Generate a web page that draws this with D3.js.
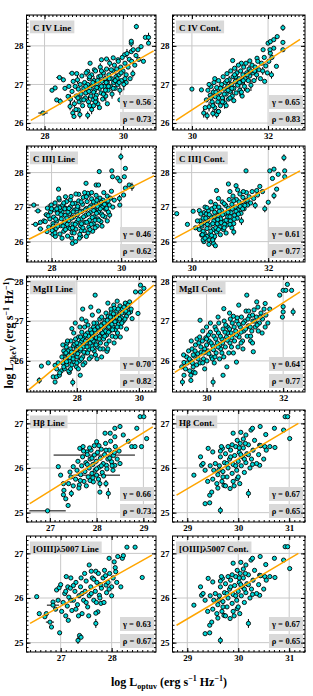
<!DOCTYPE html>
<html>
<head>
<meta charset="utf-8">
<script src="https://cdn.jsdelivr.net/npm/d3@7"></script>
<style>
  body { margin: 0; background: #fff; }
  svg text { font-family: "Liberation Serif", "Times New Roman", serif; font-weight: bold; }
</style>
</head>
<body>
<svg id="chart" width="313" height="696"></svg>
<script>
const titles = ['C IV Line', 'C IV Cont.', 'C III] Line', 'C III] Cont.', 'MgII Line', 'MgII Cont.',
  'H\u03b2 Line', 'H\u03b2 Cont.', '[OIII]\u03bb5007 Line', '[OIII]\u03bb5007 Cont.'];
const gammas = ['0.56', '0.65', '0.46', '0.61', '0.70', '0.64', '0.66', '0.67', '0.63', '0.67'];
const rhos = ['0.73', '0.83', '0.62', '0.77', '0.82', '0.77', '0.73', '0.65', '0.67', '0.65'];

const xDomains = [[27.54, 30.84], [29.49, 32.97], [27.28, 31.0], [29.5, 32.96], [26.38, 30.55],
  [29.11, 32.57], [26.5, 29.27], [28.71, 31.31], [26.33, 28.87], [28.71, 31.31]];
const yDomains = [[25.82, 28.8], [25.82, 28.8], [25.41, 28.77], [25.41, 28.77], [25.22, 28.13],
  [25.22, 28.13], [24.79, 27.3], [24.79, 27.3], [24.79, 27.39], [24.79, 27.39]];
const xTicks = [[28, 30], [30, 32], [28, 30], [30, 32], [28, 30], [30, 32], [27, 28, 29], [29, 30, 31], [27, 28], [29, 30, 31]];
const yTicks = [[26, 27, 28], [26, 27, 28], [26, 27, 28], [26, 27, 28], [26, 27, 28], [26, 27, 28],
  [25, 26, 27], [25, 26, 27], [25, 26, 27], [25, 26, 27]];

// fitted relations, as [x1, y1, x2, y2]
const fits = [[27.65, 26.07, 30.78, 27.87], [29.58, 26.07, 32.84, 28.17], [27.35, 26.07, 30.95, 27.91],
  [29.56, 26.1, 32.83, 28.05], [26.46, 25.28, 30.48, 27.9], [29.17, 25.71, 32.44, 27.73],
  [26.57, 25.2, 29.2, 26.92], [28.79, 25.39, 31.18, 27.0], [26.4, 25.43, 28.79, 26.96], [28.79, 25.39, 31.18, 27.0]];

// points: [x, y, xerr, yerr]
const civLine = [
  [27.96,26.26,0.12,0.05],[28.19,26.85],[28.27,26.91],[28.38,27.18,0.08,0],[28.48,27.12],[28.31,26.6],[28.4,26.56,0.06,0.08],
  [28.52,26.9],[28.6,26.69],[28.65,26.43,0,0.1],[28.72,26.26,0,0.1],[28.75,26.17],[28.9,26.22,0,0.1],[28.86,26.34],
  [28.7,27.29,0.08,0],[28.82,27.28],[29.1,27.34],[29.16,27.55],[29.27,27.38],[29.45,27.64],[29.58,27.66],[29.75,27.69],
  [29.87,27.64],[30.04,27.77],[30.21,27.85],[30.21,28.07,0,0.1],[30.21,28.12],[30.34,28.5,0,0.07],[30.38,27.9],[30.46,27.98],
  [30.57,28.22],[30.65,28.22,0,0.12],[30.65,28.07],[30.52,27.6],[30.25,27.28,0,0.1],[30.08,27.05],[29.92,26.6],
  [28.62,26.95],[28.66,26.62,0,0.12],[28.7,26.82],[28.73,27.08],[28.76,26.5,0,0.1],[28.78,26.95],[28.81,26.7],[28.84,27.12,0,0.1],
  [28.86,26.88],[28.88,26.55],[28.91,27.0],[28.93,26.75,0,0.12],[28.95,27.22],[28.97,26.45],[29.0,26.9],[29.02,27.05],
  [29.04,26.65],[29.06,27.3,0,0.1],[29.08,26.8],[29.1,27.0],[29.12,26.55,0,0.15],[29.14,27.15],[29.16,26.9],[29.18,26.7],
  [29.2,27.25],[29.22,26.98],[29.24,26.6],[29.26,27.1,0,0.12],[29.28,26.85],[29.3,27.35],[29.32,26.72],[29.34,27.02],
  [29.36,26.5,0,0.15],[29.38,27.2],[29.4,26.9],[29.42,27.45,0,0.1],[29.44,26.78],[29.46,27.08],[29.48,26.62],[29.5,27.3],
  [29.52,26.95],[29.54,27.15,0,0.12],[29.56,26.7,0,0.14],[29.58,27.4],[29.6,27.05],[29.62,26.85],[29.64,27.25],
  [29.66,27.55,0,0.1],[29.68,26.95],[29.7,27.15],[29.72,26.75,0,0.12],[29.74,27.35],[29.76,27.05],[29.78,27.5],[29.8,26.9],
  [29.82,27.2,0,0.1],[29.84,27.4],[29.86,27.0],[29.88,27.6],[29.9,27.25],[29.92,26.85,0,0.12],[29.94,27.45],[29.96,27.1],
  [29.98,27.7],[30.0,27.35],[30.02,27.0,0,0.15],[30.05,27.55],[30.08,27.25],[30.1,27.8,0,0.12],[30.13,27.45],[30.16,27.65],
  [30.18,27.15],[30.22,27.6],[30.26,27.9],[30.3,27.5],[30.33,27.75],[30.4,27.65],[29.05,26.95],[29.15,26.45],[29.25,26.8],
  [29.35,27.1],[29.45,26.95],[29.55,26.85],[29.65,27.15],[29.75,26.9],[29.85,27.15],[29.2,26.35,0,0.12],[29.4,26.4],
  [29.6,26.5],[29.1,26.2,0,0.1],[28.8,26.35],[29.3,26.55],
  [28.95,26.6],[29.05,26.78],[29.13,26.82],[29.23,27.05],[29.3,26.65],[29.33,26.92],[29.43,27.22],[29.5,26.75],[29.57,27.05],
  [29.63,26.95],[29.7,27.38],[29.8,27.1],[29.9,27.05],[29.95,27.3],[30.05,27.15],[29.15,27.2],[29.45,27.35],[28.85,26.65],
  [29.0,26.6],[29.25,26.45]
];

const civCont = [
  [30.0,26.88],[30.25,26.86],[30.31,26.26,0,0.12],[30.4,26.19,0,0.1],[30.65,26.22,0,0.1],[30.69,26.3],[31.07,27.62],
  [31.3,27.55],[31.52,27.61],[31.71,27.68],[31.91,27.08],[32.0,28.07],[32.06,28.11],[32.15,28.16],[32.24,28.24],
  [32.15,27.94],[32.09,27.25,0,0.1],[32.22,27.47],[32.39,28.47,0,0.08],[32.39,28.09],[32.39,27.9],[32.06,27.81],[31.87,27.9],
  [30.38,26.6],[30.42,26.85],[30.45,26.42,0,0.12],[30.48,26.72],[30.5,26.95],[30.53,26.55],[30.56,26.8,0,0.1],[30.58,27.05],
  [30.6,26.4,0,0.14],[30.62,26.68],[30.65,26.92],[30.68,26.55],[30.7,27.1],[30.72,26.78,0,0.12],[30.75,26.45],[30.78,27.0],
  [30.8,26.65],[30.82,27.2],[30.84,26.88],[30.86,26.52,0,0.15],[30.88,27.05],[30.9,26.75],[30.92,27.28],[30.94,26.95],
  [30.96,26.62],[30.98,27.12,0,0.1],[31.0,26.82],[31.02,27.35],[31.04,27.0],[31.06,26.7,0,0.14],[31.08,27.2],[31.1,26.9],
  [31.12,27.42],[31.14,27.08],[31.16,26.78],[31.18,27.3,0,0.12],[31.2,26.98],[31.22,27.5],[31.24,27.15],[31.26,26.85,0,0.15],
  [31.28,27.35],[31.3,27.05],[31.32,26.7],[31.34,27.25],[31.36,27.45],[31.38,26.95,0,0.12],[31.4,27.15],[31.42,27.55],
  [31.44,27.3],[31.46,26.85],[31.48,27.1],[31.5,27.4,0,0.1],[31.52,27.22],[31.55,26.98,0,0.15],[31.58,27.5],[31.6,27.3],
  [31.63,27.1],[31.66,27.45],[31.7,27.25,0,0.12],[31.73,27.6],[31.76,27.38],[31.8,27.15],[31.83,27.55],[31.86,27.35,0,0.1],
  [31.9,27.7],[31.94,27.48],[31.98,27.3],[32.02,27.6],[32.05,27.9],[32.1,27.7],[30.7,26.3],[30.9,26.45],[31.1,26.58],
  [30.55,26.25,0,0.1],[31.3,26.8,0,0.12],[30.35,26.4],[30.45,27.0],[30.6,27.15],
  [30.5,26.65],[30.63,26.8],[30.7,26.65],[30.85,26.75],[30.95,26.85],[31.05,26.9],[31.15,27.2],[31.25,27.05],[31.35,27.1],
  [31.45,27.25],[31.55,27.35],[31.65,27.35],[30.75,26.9],[30.92,27.1],[31.12,27.25],[30.55,26.45],[30.8,26.55],[31.0,26.65]
];

const ciiiLine = [
  [27.49,27.06,0.15,0],[27.61,26.89,0.1,0],[27.54,26.5,0.12,0],[27.68,26.56],[27.78,26.6],[27.68,26.37,0.08,0],[27.87,26.29],
  [28.04,26.21,0.1,0],[28.11,26.15],[28.2,27.52],[28.22,27.21],[28.54,27.21],[28.78,27.37],[28.99,27.69],[29.07,27.37],
  [29.28,27.64],[29.37,28.03],[29.35,27.64],[29.73,28.05],[29.75,27.88],[29.99,28.46,0,0.1],[29.9,27.84],[29.96,27.76],
  [30.12,28.12],[30.09,27.88],[29.95,27.25,0,0.1],[29.96,27.06],[30.07,27.35],[30.12,27.55],[30.23,27.64],[30.31,27.59,0,0.12],
  [29.67,26.77,0,0.1],[28.58,26.1],[28.6,25.95],[28.69,26.0],[28.84,26.15],
  [27.82,26.58],[27.85,26.78,0.08,0],[27.88,26.97],[27.92,26.42],[27.95,26.66],[27.97,26.86],[27.99,27.06,0.1,0],[28.02,26.32],
  [28.04,26.52],[28.06,26.71],[28.08,26.92],[28.1,27.12],[28.13,26.38],[28.15,26.6],[28.17,26.82],[28.19,27.01],[28.21,27.26],
  [28.24,26.22],[28.26,26.46],[28.28,26.66],[28.3,26.86],[28.32,27.06,0.1,0],[28.35,26.3],[28.37,26.56],[28.39,26.76],
  [28.41,26.96],[28.43,27.16],[28.46,26.16],[28.48,26.41],[28.5,26.61],[28.52,26.81],[28.54,27.01],[28.56,27.31],[28.59,26.26],
  [28.61,26.51],[28.63,26.71],[28.65,26.91],[28.67,27.11],[28.7,26.36],[28.72,26.56],[28.74,26.78],[28.76,26.98],[28.78,27.18],
  [28.81,26.21],[28.83,26.46],[28.85,26.66],[28.87,26.88],[28.89,27.08],[28.91,27.28],[28.94,26.32],[28.96,26.56],[28.98,26.76],
  [29.0,26.96],[29.02,27.16],[29.04,27.4],[29.07,26.42],[29.09,26.62],[29.11,26.84],[29.13,27.04],[29.15,27.24],[29.18,26.3],
  [29.2,26.52],[29.22,26.72],[29.24,26.92],[29.26,27.12],[29.28,27.34],[29.31,26.45],[29.33,26.66],[29.35,26.86],[29.37,27.06],
  [29.39,27.26],[29.42,26.58],[29.44,26.8],[29.46,27.0],[29.48,27.2],[29.5,27.42],[29.53,26.72],[29.55,26.94],[29.57,27.14],
  [29.6,27.32],[29.63,26.86],[29.66,27.06],[29.69,27.26],[29.72,27.46],[29.76,27.0],[29.8,27.2],[28.0,26.95],[28.25,26.92],
  [28.45,26.5],[28.65,26.25],[28.85,26.32],[29.05,26.25],[29.25,26.4],[29.45,26.45],[29.15,27.42],[28.95,27.42],[28.7,27.38],
  [28.4,27.3],[28.8,26.1],[29.0,26.15],[29.6,26.6],[28.3,26.1],
  [27.9,26.75],[28.05,26.45],[28.12,26.65],[28.18,26.45],[28.27,26.78],[28.33,26.45],[28.38,26.95],[28.44,26.68],[28.47,26.86],
  [28.53,26.38],[28.57,26.68],[28.62,26.86],[28.68,26.5],[28.73,26.95],[28.77,26.64],[28.82,26.86],[28.86,26.52],[28.92,26.72],
  [28.97,26.92],[29.01,26.56],[29.06,26.8],[29.1,27.0],[29.14,26.5],[29.17,26.7],[29.21,26.9],[29.25,26.62],[29.29,26.82],
  [29.32,27.02],[29.36,26.62],[29.4,26.95],[29.43,27.14],[29.47,26.75],[29.52,27.08],[29.58,26.96],[29.62,27.18],[28.23,26.98],
  [28.5,26.96],[28.75,27.02],[29.0,27.3],[29.2,27.15],[28.1,26.25],[28.4,26.35],[28.6,26.4],[28.9,26.4],[29.1,26.35],
  [28.15,26.95],[28.35,27.12],[28.6,27.1],[28.85,27.15],[29.3,27.2]
];

const ciiiCont = [
  [29.61,26.81],[29.89,26.5],[30.04,26.88],[30.2,26.9],[30.32,26.84],[30.65,27.48],[30.96,27.67],[31.42,28.05],[31.16,27.62],
  [31.7,27.48],[31.91,26.95,0,0.1],[32.04,28.05],[32.15,28.1],[32.26,27.95],[32.41,28.43,0,0.1],[32.43,28.05],[32.43,27.88],
  [32.15,27.33,0,0.1],[32.22,27.52],[32.11,27.83],[32.0,27.14],[30.26,26.19],[30.32,26.0],[30.57,25.95,0,0.1],[30.57,26.1],
  [30.2,26.35],[30.22,26.6],[30.24,26.8],[30.27,26.45],[30.3,26.68],[30.33,26.25],[30.35,26.55],[30.38,26.8],[30.4,26.38],
  [30.42,26.62],[30.44,26.9],[30.47,26.2],[30.49,26.48],[30.51,26.72],[30.53,26.95],[30.56,26.35],[30.58,26.6],[30.6,26.85],
  [30.62,27.08],[30.65,26.28],[30.67,26.52],[30.69,26.76],[30.71,27.0],[30.74,26.42],[30.76,26.66],[30.78,26.9],[30.8,27.15],
  [30.83,26.35],[30.85,26.58],[30.87,26.82],[30.89,27.05],[30.92,26.48],[30.94,26.72],[30.96,26.96],[30.98,27.22],[31.01,26.6],
  [31.03,26.84],[31.05,27.08],[31.08,27.32],[31.1,26.52],[31.12,26.76],[31.14,27.0],[31.17,27.22],[31.19,26.68],[31.21,26.92],
  [31.24,27.15],[31.26,27.38],[31.29,26.82],[31.31,27.05],[31.34,27.28],[31.37,26.95],[31.4,27.18],[31.43,27.42],[31.46,27.06],
  [31.5,27.3],[31.54,27.12],[31.58,27.45],[31.62,27.25],[31.66,27.05,0,0.1],[31.72,27.35],[31.78,27.6],[31.85,27.45],
  [30.3,26.05],[30.45,26.05],[30.6,26.15],[30.75,26.2],[30.9,26.25],[31.05,26.4],[30.15,26.6],[30.1,26.4],[30.35,27.0],
  [30.5,27.15],[30.7,27.25],[31.0,27.45],[31.2,27.5],[30.45,25.92],[30.62,25.88],[31.1,26.28,0,0.1],[31.3,26.6,0,0.12],
  [30.25,26.5],[30.3,26.3],[30.37,26.68],[30.41,26.5],[30.46,26.78],[30.5,26.3],[30.55,26.52],[30.59,26.72],[30.63,26.4],
  [30.68,26.64],[30.72,26.88],[30.77,26.55],[30.81,26.78],[30.86,26.5],[30.9,26.62],[30.95,26.85],[31.0,26.72],[31.06,26.95],
  [31.11,26.65],[31.16,26.88],[31.22,26.8],[31.27,27.02],[31.33,26.95],[31.39,27.05],[31.45,27.2],[30.28,26.2],[30.4,26.15],
  [30.52,26.18],[30.7,26.35],[30.85,26.4],[31.0,26.5],[30.4,26.98],[30.6,27.0],[30.85,27.1],[31.1,27.18],[31.35,27.45],
  [30.35,26.1],[30.55,26.05]
];

const mgLine = [
  [26.79,25.51,0,0.08],[26.86,25.87],[27.08,25.95],[27.3,25.89],[27.24,25.6],[27.3,25.47],[27.35,25.6],[27.44,25.64],
  [27.87,25.46,0,0.1],[27.76,25.71],[28.11,25.64],[28.19,27.3],[28.59,27.65],[28.16,27.05],[27.84,26.81],[27.68,26.44],
  [28.97,26.24],[29.19,27.4],[29.57,27.44],[29.73,27.23],[29.89,27.73],[30.05,27.9],[30.16,27.82],[30.05,27.73],[29.97,27.19],
  [29.78,27.06],
  [27.5,25.75],[27.52,26.1],[27.55,25.95],[27.58,26.25],[27.6,25.8],[27.63,26.05],[27.66,26.35],[27.68,25.9],[27.71,26.15],
  [27.74,25.75],[27.76,26.0],[27.79,26.3],[27.81,26.5],[27.84,25.9],[27.86,26.12],[27.89,26.38],[27.91,25.98],[27.94,26.22],
  [27.96,26.55],[27.99,25.85],[28.01,26.1],[28.04,26.35],[28.06,26.6],[28.09,26.0],[28.11,26.25],[28.14,26.48],[28.16,26.72],
  [28.19,26.1],[28.21,26.35],[28.24,26.6],[28.26,25.95],[28.29,26.2],[28.31,26.45],[28.34,26.7],[28.36,26.9],[28.39,26.28],
  [28.41,26.52],[28.44,26.78],[28.46,26.1],[28.49,26.38],[28.51,26.62],[28.54,26.85],[28.56,26.25],[28.59,26.48],[28.61,26.72],
  [28.64,26.95],[28.66,26.35],[28.69,26.58],[28.71,26.82],[28.74,27.05],[28.76,26.45],[28.79,26.68],[28.81,26.92],[28.84,26.3],
  [28.86,26.55],[28.89,26.78],[28.91,27.02],[28.94,27.2],[28.96,26.65],[28.99,26.88],[29.01,27.12],[29.04,26.5],[29.06,26.75],
  [29.09,26.98],[29.11,27.22],[29.14,26.62],[29.16,26.86],[29.19,27.1],[29.21,27.32],[29.24,26.78],[29.26,27.0],[29.29,27.25],
  [29.31,26.7],[29.34,26.92],[29.36,27.15],[29.39,27.38],[29.42,26.85],[29.44,27.08],[29.47,27.3],[29.5,27.0],[29.53,27.22],
  [29.56,27.45],[29.6,27.12],[29.63,27.35],[29.67,27.2],[29.7,27.48],[29.75,27.3],[27.45,25.7],[27.4,25.95],[27.35,25.8],
  [27.55,26.4],[27.7,26.5],[27.9,26.7],[28.1,26.85],[28.3,27.0],[28.5,27.15],[28.7,27.25],[28.2,25.9],[28.4,26.05],[28.6,26.15],
  [28.8,26.1],[29.0,26.3],[29.2,26.45],[29.4,26.6],[29.6,26.8],[28.05,25.8],[27.95,26.95],[28.45,27.35],[29.0,27.45],
  [29.3,27.5],[28.25,26.85],[28.75,26.3],
  [27.62,26.18],[27.67,25.98],[27.72,26.25],[27.78,26.08],[27.83,26.22],[27.88,26.05],[27.93,26.42],[27.98,26.28],[28.03,26.18],
  [28.08,26.42],[28.13,26.3],[28.18,26.55],[28.23,26.22],[28.28,26.5],[28.33,26.35],[28.38,26.62],[28.43,26.45],[28.48,26.7],
  [28.53,26.5],[28.58,26.78],[28.63,26.58],[28.68,26.85],[28.73,26.62],[28.78,26.88],[28.83,26.7],[28.88,26.95],[28.93,26.75],
  [28.98,27.02],[29.03,26.85],[29.08,27.1],[29.13,26.92],[29.18,27.18],[29.23,26.98],[29.28,27.1],[29.33,27.3],[29.38,27.05],
  [29.45,27.2],[29.52,27.35],[29.58,27.25],[29.65,27.4],[28.0,26.45],[28.12,26.6],[28.35,26.2],[28.47,26.55],[28.62,26.4],
  [28.72,26.55],[28.9,26.62],[29.02,26.72],[29.15,26.78],[29.3,26.85],[29.45,26.95],[29.55,27.05],[28.28,26.65],[28.55,26.95],
  [28.8,27.1],[29.1,27.3],[27.8,25.8],[28.0,25.95],[28.15,26.05],[28.5,26.3],[28.65,26.05],[28.95,26.42],[29.25,26.6],
  [27.58,25.85],[27.65,26.2]
];

const mgCont = [
  [29.37,25.47,0,0.1],[29.41,25.64],[29.59,25.51],[29.59,25.64],[29.66,25.72],[29.41,25.96],[30.17,25.47,0,0.12],[30.43,25.64],
  [30.53,25.85],[30.78,25.97],[31.22,26.23],[29.83,27.02],[30.0,26.85],[30.45,27.31],[30.84,27.4],[31.05,27.65],[31.31,27.48],
  [31.53,27.44],[31.91,27.65],[32.0,27.77],[32.11,27.92],[32.07,27.77],[32.22,27.77],[32.0,27.36],[32.0,27.23],[31.98,27.1],
  [32.26,27.23,0,0.1],[31.53,26.85],
  [29.45,25.8],[29.48,26.1],[29.5,25.95],[29.53,26.25],[29.56,25.75],[29.59,26.0],[29.62,26.3],[29.65,25.85],[29.68,26.12],
  [29.71,26.4],[29.74,25.9],[29.77,26.18],[29.8,26.45],[29.83,25.95],[29.86,26.22],[29.89,26.5],[29.92,26.05],[29.95,26.3],
  [29.98,26.58],[30.01,26.0],[30.04,26.25],[30.07,26.5],[30.1,26.72],[30.13,26.1],[30.16,26.38],[30.19,26.62],[30.22,26.85],
  [30.25,26.2],[30.28,26.45],[30.31,26.7],[30.34,26.05],[30.37,26.3],[30.4,26.55],[30.43,26.8],[30.46,27.0],[30.49,26.35],
  [30.52,26.6],[30.55,26.85],[30.58,26.2],[30.61,26.45],[30.64,26.7],[30.67,26.95],[30.7,27.12],[30.73,26.5],[30.76,26.75],
  [30.79,27.0],[30.82,26.35],[30.85,26.6],[30.88,26.85],[30.91,27.1],[30.94,26.5],[30.97,26.75],[31.0,27.0],[31.03,27.25],
  [31.06,26.62],[31.09,26.88],[31.12,27.12],[31.15,26.5],[31.18,26.75],[31.21,27.0],[31.24,27.28],[31.27,26.85],[31.3,27.1],
  [31.34,27.35],[31.38,26.95],[31.42,27.2],[31.46,27.05],[31.5,27.3],[31.55,27.15],[31.6,26.95],[31.65,27.3],[29.4,26.15],
  [29.35,25.85],[29.6,26.5],[29.9,26.75],[30.1,26.95],[30.3,27.1],[30.6,27.2],[29.7,25.7],[29.95,25.8],[30.2,25.95],
  [30.45,26.1],[30.7,26.2],[30.95,26.3],[31.2,26.45],[31.45,26.7],[30.0,26.55],[30.35,26.4],[30.55,26.7],
  [29.55,26.05],[29.63,25.95],[29.7,26.25],[29.78,26.05],[29.85,26.35],[29.93,26.2],[30.0,26.4],[30.06,26.18],[30.12,26.45],
  [30.18,26.28],[30.24,26.55],[30.3,26.35],[30.36,26.62],[30.42,26.45],[30.48,26.72],[30.54,26.52],[30.6,26.8],[30.66,26.58],
  [30.72,26.85],[30.78,26.65],[30.84,26.92],[30.9,26.72],[30.96,26.95],[31.02,26.8],[31.08,27.05],[31.14,26.85],[31.2,27.15],
  [31.26,27.0],[31.32,26.9],[31.4,27.1],[29.75,26.55],[30.05,26.65],[30.25,26.78],[30.5,26.9],[30.8,27.08],[31.1,27.25],
  [29.65,26.15],[29.9,25.95],[30.15,26.05],[30.4,26.2],[30.65,26.35],[30.9,26.45],[31.15,26.62],[30.32,26.95],[30.62,27.05],
  [30.22,26.1],[29.82,26.6],[31.35,26.75]
];

const hbLine = [
  [26.95,25.04,0.39,0],[27.18,26.03],[27.23,25.84],[27.29,25.65],[27.3,25.5],[27.29,25.4],[27.34,25.31],[27.39,25.16],
  [27.46,25.43,0,0.08],[27.43,25.91],[27.5,26.03],[27.64,26.44],[27.71,26.48],[27.79,26.36],[27.95,26.29,0.87,0],
  [28.0,25.84,0.5,0],[27.86,25.72],[27.93,25.69],[28.07,25.65,0,0.1],[28.2,25.65,0,0.08],[28.25,25.43,0,0.12],[28.0,26.59],
  [28.18,26.78],[28.29,26.78],[28.39,26.7],[28.39,26.89],[28.5,26.93],[28.57,26.74],[28.68,26.6],[28.75,26.48],[28.82,26.48],
  [28.86,26.89],[28.93,27.15],[29.01,27.15],[28.96,26.48],[29.07,26.66],[28.5,26.1],[28.39,26.06],[28.32,26.14],[28.21,26.06],
  [28.07,25.46],
  [27.55,25.75],[27.58,25.95],[27.6,26.15],[27.63,25.62],[27.66,25.85],[27.68,26.05],[27.7,26.25],[27.73,25.7],[27.75,25.92],
  [27.77,26.12],[27.8,26.3],[27.82,25.8],[27.84,26.0],[27.86,26.2],[27.88,26.4],[27.9,25.88],[27.92,26.08],[27.95,26.5],
  [27.97,25.95],[27.99,26.15],[28.02,26.35],[28.04,25.75],[28.06,26.02],[28.08,26.22],[28.1,26.42],[28.12,25.9],[28.14,26.1],
  [28.17,26.3],[28.19,26.55],[28.22,25.98],[28.24,26.2],[28.27,26.4],[28.3,26.6],[28.33,26.05],[28.36,26.28],[28.4,26.48],
  [28.44,26.2],[28.48,26.38],[27.5,25.6],[27.45,25.8],[27.4,25.65],[27.62,25.55],[27.78,25.6],[28.15,25.82],[28.35,25.95],
  [27.85,26.45],[28.05,26.5],
  [27.72,26.38],[27.8,26.08],[27.9,26.22],[28.0,25.98],[28.1,26.05],[28.2,26.4],[28.28,26.22],[27.65,25.72],[27.92,25.78],
  [28.38,26.35]
];

const hbCont = [
  [29.13,25.84],[29.26,26.25],[29.28,26.06],[29.31,26.1],[29.35,25.2],[29.44,25.22],[29.44,25.39],[29.48,25.46],[29.41,26.44],
  [29.5,26.36],[29.65,25.05,0,0.08],[29.69,26.44],[29.67,26.48],[29.8,26.48],[29.9,26.78],[30.05,26.8],[30.15,26.74],
  [30.25,26.85],[30.28,26.89],[30.43,26.93],[30.54,26.75],[30.71,26.89],[30.89,26.85],[30.92,27.15],[30.97,27.15],[31.01,26.66],
  [30.42,26.51],[30.52,26.48],[30.62,26.48],[30.72,26.46],[30.42,26.06],[30.2,25.43,0,0.1],[30.03,25.65],[29.98,25.76],
  [29.84,25.54],[29.72,25.61],
  [29.5,25.75],[29.52,25.95],[29.55,26.1],[29.58,25.65],[29.6,25.85],[29.63,26.05],[29.65,26.25],[29.68,25.7],[29.7,25.92],
  [29.73,26.12],[29.75,26.32],[29.78,25.8],[29.8,26.0],[29.83,26.2],[29.85,26.4],[29.88,25.88],[29.9,26.08],[29.93,26.28],
  [29.95,26.48],[29.97,25.95],[30.0,26.15],[30.02,26.35],[30.04,26.55],[30.06,26.05],[30.08,26.25],[30.1,26.45],[30.12,25.9],
  [30.15,26.12],[30.17,26.32],[30.2,26.52],[30.23,26.0],[30.26,26.2],[30.29,26.4],[30.32,26.62],[30.36,26.1],[30.4,26.3],
  [30.44,26.5],[29.45,26.05],[29.4,25.7],[29.35,25.95],[29.6,25.55],[29.75,25.6],[29.9,25.7],[30.0,25.8],[30.1,26.65],
  [29.98,26.62],[30.5,26.2],[30.55,26.4],[29.65,26.38],[29.92,25.6],
  [29.7,25.8],[29.78,26.1],[29.85,26.25],[29.95,26.05],[30.05,26.3],[30.12,26.2],[30.2,26.3],[30.28,26.08],[29.62,25.95],
  [30.02,26.45],[29.88,26.52],[30.14,26.55]
];

const oiiiLine = [
  [26.53,26.03],[26.58,25.65],[26.69,25.58],[26.72,25.65],[26.79,25.46,0.08,0],[26.82,25.35],[26.85,25.91],[26.92,26.18],
  [26.97,26.23],[26.98,25.22],[26.85,25.84,0.12,0],[27.11,26.48],[27.14,26.25],[27.34,25.05,0,0.08],[27.37,25.16],[27.4,25.12],
  [27.56,26.74],[27.69,26.6],[27.47,26.55],[27.69,25.43,0,0.1],[27.73,25.69],[27.69,25.66],[27.79,25.88],[27.95,26.89],
  [28.05,26.81],[28.12,26.93],[28.21,26.89],[28.23,26.95],[28.08,26.59],[28.18,26.25],[28.3,27.14],[28.46,27.14],[28.6,26.46],
  [27.89,26.29],[27.76,26.06],
  [27.02,25.7],[27.05,25.9],[27.08,26.1],[27.1,25.6],[27.13,25.82],[27.16,26.02],[27.19,26.22],[27.22,25.72],[27.25,25.95],
  [27.28,26.15],[27.3,26.35],[27.33,25.85],[27.36,26.05],[27.39,26.25],[27.42,25.65],[27.45,25.95],[27.48,26.15],[27.5,26.38],
  [27.53,25.8],[27.56,26.05],[27.59,26.25],[27.62,26.45],[27.65,25.95],[27.68,26.15],[27.71,26.35],[27.74,26.55],[27.77,26.0],
  [27.8,26.22],[27.83,26.45],[27.86,26.62],[27.9,26.12],[27.93,26.35],[27.96,26.55],[28.0,26.25],[28.03,26.45],[28.07,26.68],
  [28.1,26.35],[26.95,25.95],[26.9,25.75],[27.0,26.3],[27.2,26.45],[27.15,25.5],[27.35,25.6],[27.55,25.6],[27.6,26.6],
  [27.4,26.45],[27.85,25.9],[28.0,26.05],
  [27.2,25.95],[27.3,25.75],[27.42,26.1],[27.5,25.9],[27.6,26.1],[27.7,25.9],[27.78,26.3],[27.88,26.5],[27.95,26.2],
  [27.25,26.28],[27.65,26.42],[27.1,26.15]
];

const oiiiCont = hbCont;
const panelData = [civLine, civCont, ciiiLine, ciiiCont, mgLine, mgCont, hbLine, hbCont, oiiiLine, oiiiCont];

const cols = [[26.5, 156], [172.5, 305]];
const rows = [[15, 130], [146, 262], [276, 392], [410, 522], [536, 652]];

const svg = d3.select('#chart');

panelData.forEach((data, i) => {
  const [x0, x1] = cols[i % 2];
  const [y0, y1] = rows[Math.floor(i / 2)];
  const w = x1 - x0, h = y1 - y0;
  const x = d3.scaleLinear().domain(xDomains[i]).range([0, w]);
  const y = d3.scaleLinear().domain(yDomains[i]).range([h, 0]);

  const g = svg.append('g').attr('transform', `translate(${x0},${y0})`);
  g.append('clipPath').attr('id', 'clip' + i)
    .append('rect').attr('width', w).attr('height', h);

  // grid
  g.selectAll('.gx').data(xTicks[i]).enter().append('line')
    .attr('x1', d => x(d)).attr('x2', d => x(d)).attr('y1', 0).attr('y2', h)
    .attr('stroke', '#c8c8c8').attr('stroke-width', 1);
  g.selectAll('.gy').data(yTicks[i]).enter().append('line')
    .attr('y1', d => y(d)).attr('y2', d => y(d)).attr('x1', 0).attr('x2', w)
    .attr('stroke', '#c8c8c8').attr('stroke-width', 1);

  const plot = g.append('g').attr('clip-path', `url(#clip${i})`);

  // error bars
  plot.selectAll('.ex').data(data.filter(d => d[2])).enter().append('line')
    .attr('x1', d => x(d[0] - d[2])).attr('x2', d => x(d[0] + d[2]))
    .attr('y1', d => y(d[1])).attr('y2', d => y(d[1]))
    .attr('stroke', '#000').attr('stroke-width', 1);
  plot.selectAll('.ey').data(data.filter(d => d[3])).enter().append('line')
    .attr('x1', d => x(d[0])).attr('x2', d => x(d[0]))
    .attr('y1', d => y(d[1] - d[3])).attr('y2', d => y(d[1] + d[3]))
    .attr('stroke', '#000').attr('stroke-width', 1);

  plot.selectAll('circle').data(data).enter().append('circle')
    .attr('cx', d => x(d[0])).attr('cy', d => y(d[1])).attr('r', 2.1)
    .attr('fill', '#00d8d8').attr('stroke', '#000').attr('stroke-width', 0.9);

  const f = fits[i];
  plot.append('line')
    .attr('x1', x(f[0])).attr('y1', y(f[1])).attr('x2', x(f[2])).attr('y2', y(f[3]))
    .attr('stroke', '#ffa500').attr('stroke-width', 1.5);

  // title box
  const tt = g.append('text').attr('x', 6.5).attr('y', 15.5)
    .attr('font-size', 9).text(titles[i]);
  const tw = tt.node().getComputedTextLength();
  g.insert('rect', 'text').attr('x', 3.5).attr('y', 5.5).attr('width', tw + 6).attr('height', 12.8)
    .attr('fill', '#d9d9d9');

  // stat boxes
  [['\u03b3 = ' + gammas[i], h - 35], ['\u03c1 = ' + rhos[i], h - 18]].forEach(([s, by]) => {
    g.append('rect').attr('x', w - 36).attr('y', by).attr('width', 34).attr('height', 14)
      .attr('fill', '#d9d9d9');
    g.append('text').attr('x', w - 19).attr('y', by + 10).attr('text-anchor', 'middle')
      .attr('font-size', 8.5).text(s);
  });

  // frame and ticks
  const xm = d3.range(Math.ceil(xDomains[i][0] * 10), Math.floor(xDomains[i][1] * 10) + 1).map(v => v / 10);
  const ym = d3.range(Math.ceil(yDomains[i][0] * 10), Math.floor(yDomains[i][1] * 10) + 1).map(v => v / 10);
  const noLab = () => '';
  g.append('g').attr('transform', `translate(0,${h})`)
    .call(d3.axisBottom(x).tickValues(xm).tickSize(-2).tickSizeOuter(0).tickFormat(noLab));
  g.append('g').call(d3.axisTop(x).tickValues(xm).tickSize(-2).tickSizeOuter(0).tickFormat(noLab));
  g.append('g').call(d3.axisLeft(y).tickValues(ym).tickSize(-2).tickSizeOuter(0).tickFormat(noLab));
  g.append('g').attr('transform', `translate(${w},0)`)
    .call(d3.axisRight(y).tickValues(ym).tickSize(-2).tickSizeOuter(0).tickFormat(noLab));
  g.append('g').attr('class', 'lab').attr('transform', `translate(0,${h})`)
    .call(d3.axisBottom(x).tickValues(xTicks[i]).tickSize(-4).tickSizeOuter(0).tickPadding(3).tickFormat(d3.format('d')));
  g.append('g').attr('class', 'lab')
    .call(d3.axisLeft(y).tickValues(yTicks[i]).tickSize(-4).tickSizeOuter(0).tickPadding(3).tickFormat(d3.format('d')));
  g.append('g').call(d3.axisTop(x).tickValues(xTicks[i]).tickSize(-4).tickSizeOuter(0).tickFormat(noLab));
  g.append('g').attr('transform', `translate(${w},0)`)
    .call(d3.axisRight(y).tickValues(yTicks[i]).tickSize(-4).tickSizeOuter(0).tickFormat(noLab));
  g.selectAll('.domain').remove();
  g.selectAll('.lab text').attr('font-size', 9).attr('font-family', null).attr('fill', '#000');
  g.append('rect').attr('width', w).attr('height', h)
    .attr('fill', 'none').attr('stroke', '#000').attr('stroke-width', 1);
});

// axis titles
const xl = svg.append('text').attr('x', 169).attr('y', 686).attr('text-anchor', 'middle').attr('font-size', 12);
xl.append('tspan').text('log L');
xl.append('tspan').attr('font-size', 8).attr('dy', 2.5).text('optuv');
xl.append('tspan').attr('dy', -2.5).text(' (erg s');
xl.append('tspan').attr('font-size', 8).attr('dy', -5).text('\u22121');
xl.append('tspan').attr('dy', 5).text(' Hz');
xl.append('tspan').attr('font-size', 8).attr('dy', -5).text('\u22121');
xl.append('tspan').attr('dy', 5).text(')');

const yl = svg.append('text').attr('transform', 'translate(13,333) rotate(-90)')
  .attr('text-anchor', 'middle').attr('font-size', 11.5);
yl.append('tspan').text('log L');
yl.append('tspan').attr('font-size', 8).attr('dy', 2.5).text('2keV');
yl.append('tspan').attr('dy', -2.5).text(' (erg s');
yl.append('tspan').attr('font-size', 8).attr('dy', -4.5).text('\u22121');
yl.append('tspan').attr('dy', 4.5).text(' Hz');
yl.append('tspan').attr('font-size', 8).attr('dy', -4.5).text('\u22121');
yl.append('tspan').attr('dy', 4.5).text(')');
</script>
</body>
</html>
